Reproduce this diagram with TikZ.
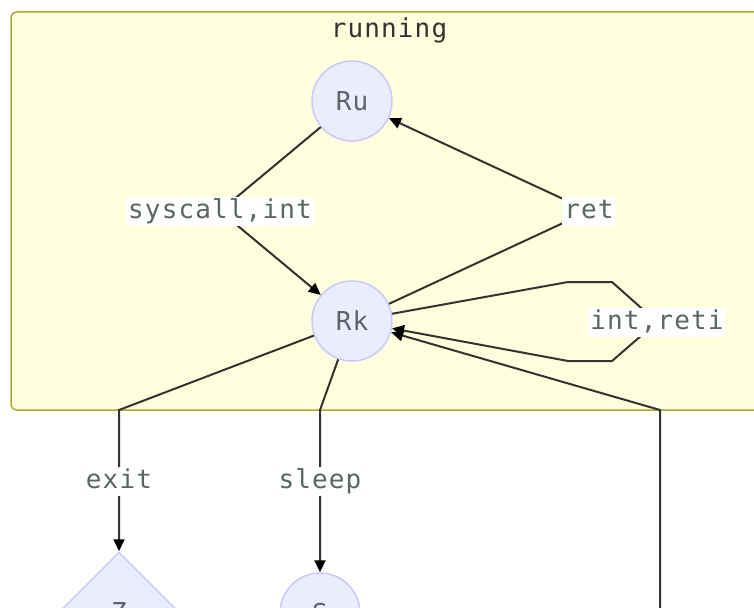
\documentclass[tikz,border=0pt]{standalone}
\usepackage{fontspec}
\newfontfamily\diagfont[LetterSpace=4.4]{DejaVu Sans Mono}
\usetikzlibrary{arrows.meta,shapes.geometric}
\definecolor{clfill}{HTML}{FFFFDE}
\definecolor{clline}{HTML}{AAAA33}
\definecolor{stfill}{HTML}{ECECFF}
\definecolor{stline}{HTML}{C8C8FF}
\definecolor{lbltext}{HTML}{5A6565}
\definecolor{edgeline}{HTML}{333333}

\begin{document}
\begin{tikzpicture}[x=1pt,y=-1pt,
  font=\diagfont\fontsize{26}{28}\selectfont,
  state/.style={draw=stline,fill=stfill,line width=1.5pt,circle,minimum size=80pt,inner sep=0pt,text=lbltext},
  choice/.style={draw=stline,fill=stfill,line width=1.5pt,diamond,minimum width=120pt,minimum height=120pt,inner sep=0pt,text=lbltext},
  edge/.style={draw=edgeline,line width=2pt,-{Triangle[length=12pt,width=11pt,color=black,fill=black]}},
  elabel/.style={fill=white,text=lbltext,inner xsep=2pt,inner ysep=2.5pt,text height=19pt,text depth=5pt}]
\useasboundingbox (0,0) rectangle (754,607);
\clip (0,0) rectangle (754,607);
\draw[draw=clline,fill=clfill,line width=1.5pt,rounded corners=6pt] (11,12) rectangle (800,410);
\node[anchor=base,text=edgeline](title) at (389,38){running};
\node[state](Ru) at (352,101){Ru};
\node[state](Rk) at (352,321){Rk};
\node[choice](Z) at (119,612){Z};
\node[state](S) at (320,613){S};
\coordinate (lsys) at (220,211);
\coordinate (lret) at (589,211);
\coordinate (lint) at (657,322);
\coordinate (lexit) at (119,481);
\coordinate (lsleep) at (320,481);
\coordinate (W) at (660,640);
\draw[edge] (Ru) -- (lsys) -- (Rk);
\draw[edge] (Rk) -- (lret) -- (Ru);
\draw[edge] (Rk) -- (568,282) -- (612,282) -- (lint) -- (612,361) -- (568,361) -- (Rk);
\draw[edge] (Rk) -- (119,410) -- (lexit) -- (Z);
\draw[edge] (Rk) -- (320,410) -- (lsleep) -- (S);
\draw[edge] (W) -- (660,410) -- (Rk);
\node[elabel](tsys) at (lsys){syscall,int};
\node[elabel](tret) at (lret){ret};
\node[elabel](tint) at (lint){int,reti};
\node[elabel](texit) at (lexit){exit};
\node[elabel](tsleep) at (lsleep){sleep};
\end{tikzpicture}
\end{document}
